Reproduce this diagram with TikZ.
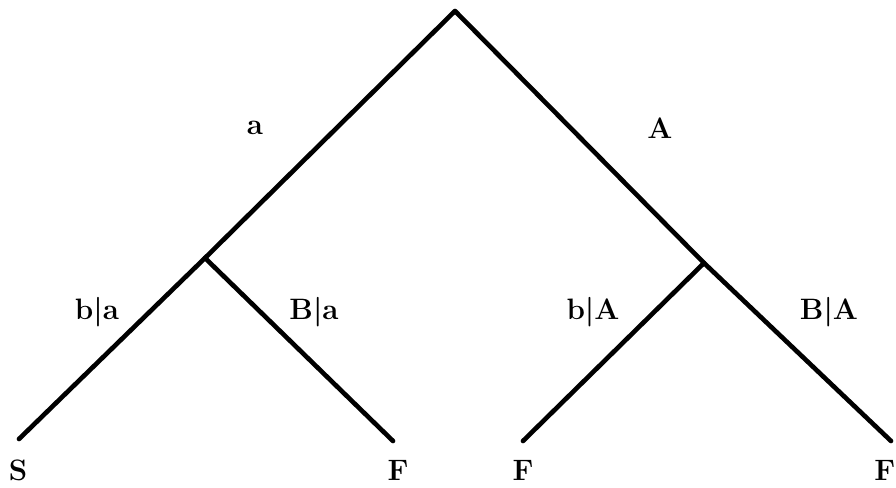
\documentclass[tikz,border=0pt]{standalone}
\usepackage{tikz}
\usetikzlibrary{positioning}

\begin{document}
\begin{tikzpicture}[
  branch/.style={line width=3.3pt, line cap=round, line join=round, black},
  lbl/.style={font=\fontsize{21}{25}\selectfont\bfseries, inner sep=0pt}
]
\useasboundingbox (0,0) rectangle (22.4,12.175);
% tree points
\coordinate (root) at (11.375,11.9);
\coordinate (na) at (5.125,5.725);
\coordinate (nA) at (17.6,5.6);
\coordinate (leafS) at (0.475,1.2);
\coordinate (leafF1) at (9.825,1.15);
\coordinate (leafF2) at (13.075,1.15);
\coordinate (leafF3) at (22.275,1.15);
% branches
\draw[branch] (leafS) -- (na) -- (root) -- (nA) -- (leafF3);
\draw[branch] (na) -- (leafF1);
\draw[branch] (nA) -- (leafF2);
% branch labels
\node[lbl] (la) at (6.375,8.975) {a};
\node[lbl] (lA) at (16.5,8.975) {A};
\node[lbl] (lba) at (2.425,4.375) {b|a};
\node[lbl] (lBa) at (7.85,4.375) {B|a};
\node[lbl] (lbA) at (14.825,4.375) {b|A};
\node[lbl] (lBA) at (20.725,4.375) {B|A};
% outcomes
\node[lbl] (oS) at (0.45,0.425) {S};
\node[lbl] (oF1) at (9.95,0.425) {F};
\node[lbl] (oF2) at (13.075,0.425) {F};
\node[lbl] (oF3) at (22.12,0.425) {F};
\end{tikzpicture}
\end{document}
